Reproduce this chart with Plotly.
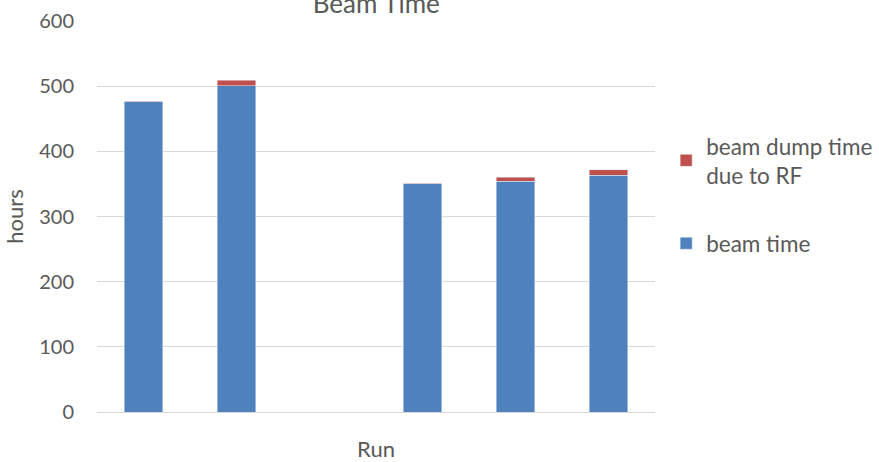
import plotly.graph_objects as go

# Runs along the x axis (third run has no data)
runs = ["Run 1", "Run 2", "Run 3", "Run 4", "Run 5", "Run 6"]
beam_time = [476, 501, None, 350, 354, 363]
beam_dump_rf = [1, 8, None, 1, 6, 9]

y_ticks = [0, 100, 200, 300, 400, 500, 600]

TEXT = "#595959"
GRID = "#D9D9D9"
FONT = "Lato, 'Open Sans', sans-serif"

fig = go.Figure()
fig.add_trace(go.Bar(
    x=runs, y=beam_time, name="beam time",
    marker=dict(color="#4F81BD"), legendgroup="a", legendrank=2,
))
fig.add_trace(go.Bar(
    x=runs, y=beam_dump_rf, name="beam dump time<br>due to RF",
    marker=dict(color="#C0504D"), legendgroup="b", legendrank=1,
))

fig.update_layout(
    width=879, height=462,
    barmode="stack", bargap=0.59,
    plot_bgcolor="white", paper_bgcolor="white",
    margin=dict(l=97, r=224, t=21, b=50, autoexpand=False),
    font=dict(family=FONT, color=TEXT, size=20),
    title=dict(text="Beam Time", x=0.428, xanchor="center",
               y=1 - 4 / 462, yref="container", yanchor="middle",
               font=dict(size=26, color=TEXT)),
    legend=dict(x=1.02, xanchor="left", y=0.735, yanchor="top",
                traceorder="grouped", tracegroupgap=36,
                font=dict(size=22.5, color=TEXT), itemwidth=30),
    showlegend=True,
)
fig.update_yaxes(
    range=[0, 600], tickvals=y_ticks, showgrid=True, gridcolor=GRID,
    gridwidth=1, zeroline=False, showline=False, ticks="",
    ticklabelstandoff=22, automargin=False,
    title=dict(text="hours", font=dict(size=22, color=TEXT), standoff=9),
    tickfont=dict(size=20, color=TEXT),
)
fig.update_xaxes(
    showticklabels=False, ticks="", showline=True, linecolor=GRID,
    linewidth=1, showgrid=False, automargin=False,
    title=dict(text="Run", font=dict(size=22, color=TEXT), standoff=31),
)

fig.write_html("out.html")
